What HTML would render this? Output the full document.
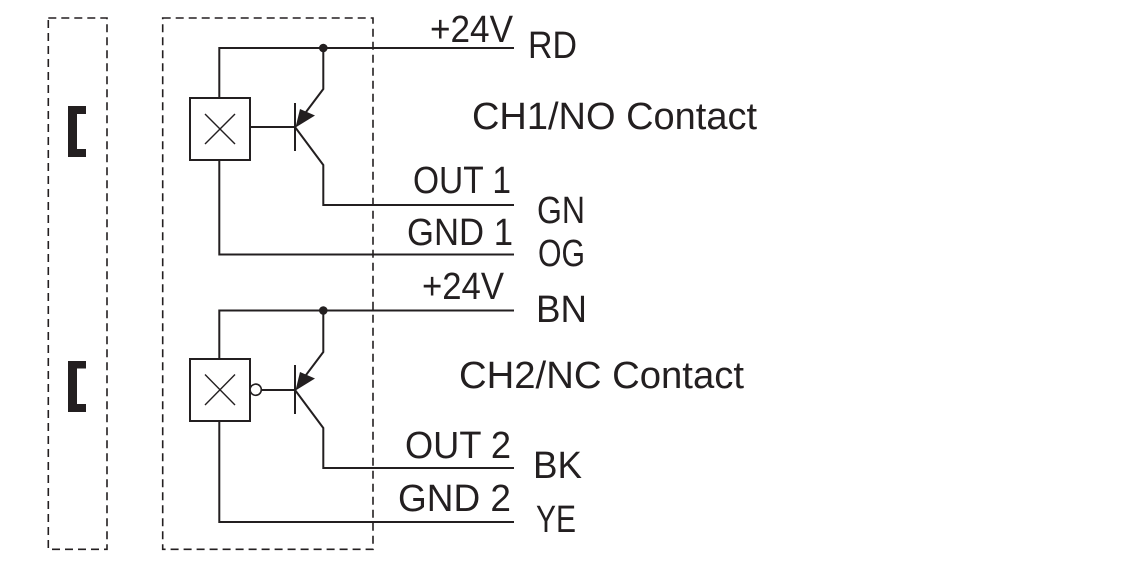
<!DOCTYPE html>
<html>
<head>
<meta charset="utf-8">
<style>
  html, body { margin:0; padding:0; background:#ffffff; }
  svg { display:block; }
  text { font-family: "Liberation Sans", "DejaVu Sans", sans-serif; font-size:38px; fill:#231f20; }
</style>
</head>
<body>
<svg width="1134" height="567" viewBox="0 0 1134 567" xmlns="http://www.w3.org/2000/svg">
  <rect x="0" y="0" width="1134" height="567" fill="#ffffff"/>

  <!-- dashed enclosures -->
  <g fill="none" stroke="#231f20" stroke-width="1.6" stroke-dasharray="8 5">
    <rect x="48.3" y="18" width="58.7" height="531.3"/>
    <rect x="162.7" y="18" width="210.3" height="531.3"/>
  </g>

  <!-- brackets -->
  <g fill="#231f20">
    <polygon points="68,106 86,106 86,114 77,114 77,149 86,149 86,157 68,157"/>
    <polygon points="68,361 86,361 86,368.5 77,368.5 77,404 86,404 86,412 68,412"/>
  </g>

  <!-- circuit 1 -->
  <g fill="none" stroke="#231f20" stroke-width="2">
    <polyline points="219.3,98 219.3,48 514,48"/>
    <polyline points="219.3,160 219.3,254.5 514,254.5"/>
    <rect x="190" y="98" width="60" height="62"/>
    <line x1="250" y1="127" x2="295" y2="127"/>
    <line x1="295" y1="103" x2="295" y2="151"/>
    <polyline points="323.3,48 323.3,89 300,120"/>
    <polyline points="295,127 323.3,165 323.3,205 514,205"/>
  </g>
  <g stroke="#231f20" stroke-width="1.4">
    <line x1="205" y1="114" x2="235" y2="144"/>
    <line x1="235" y1="114" x2="205" y2="144"/>
  </g>
  <polygon points="295.5,127.5 300,109 315,115.5" fill="#231f20"/>
  <circle cx="323.3" cy="48" r="4.3" fill="#231f20"/>

  <!-- circuit 2 -->
  <g fill="none" stroke="#231f20" stroke-width="2">
    <polyline points="219.3,359 219.3,310.5 514,310.5"/>
    <polyline points="219.3,421 219.3,522 514,522"/>
    <rect x="190" y="359" width="60" height="62"/>
    <line x1="262" y1="390" x2="295" y2="390"/>
    <line x1="295" y1="365" x2="295" y2="414"/>
    <polyline points="323.3,310.5 323.3,352 300,383"/>
    <polyline points="295,390 323.3,428 323.3,468 514,468"/>
  </g>
  <circle cx="255.7" cy="389.7" r="5.6" fill="#ffffff" stroke="#231f20" stroke-width="1.6"/>
  <g stroke="#231f20" stroke-width="1.4">
    <line x1="205" y1="374.5" x2="235" y2="405"/>
    <line x1="235" y1="374.5" x2="205" y2="405"/>
  </g>
  <polygon points="295.5,390.5 300,372 315,378.5" fill="#231f20"/>
  <circle cx="323.3" cy="310.5" r="4.3" fill="#231f20"/>

  <!-- labels -->
  <text x="430" y="42" textLength="83" lengthAdjust="spacingAndGlyphs">+24V</text>
  <text x="528" y="58" textLength="49" lengthAdjust="spacingAndGlyphs">RD</text>
  <text x="472" y="129" textLength="285" lengthAdjust="spacingAndGlyphs">CH1/NO Contact</text>
  <text x="413" y="193" textLength="98" lengthAdjust="spacingAndGlyphs">OUT 1</text>
  <text x="537" y="223" textLength="48" lengthAdjust="spacingAndGlyphs">GN</text>
  <text x="407" y="245" textLength="106" lengthAdjust="spacingAndGlyphs">GND 1</text>
  <text x="538" y="266" textLength="47" lengthAdjust="spacingAndGlyphs">OG</text>

  <text x="422" y="299" textLength="82" lengthAdjust="spacingAndGlyphs">+24V</text>
  <text x="536" y="322" textLength="51" lengthAdjust="spacingAndGlyphs">BN</text>
  <text x="459" y="388" textLength="285" lengthAdjust="spacingAndGlyphs">CH2/NC Contact</text>
  <text x="405" y="458" textLength="106" lengthAdjust="spacingAndGlyphs">OUT 2</text>
  <text x="533" y="478" textLength="49" lengthAdjust="spacingAndGlyphs">BK</text>
  <text x="398" y="511" textLength="113" lengthAdjust="spacingAndGlyphs">GND 2</text>
  <text x="536" y="532" textLength="40" lengthAdjust="spacingAndGlyphs">YE</text>
</svg>
</body>
</html>
